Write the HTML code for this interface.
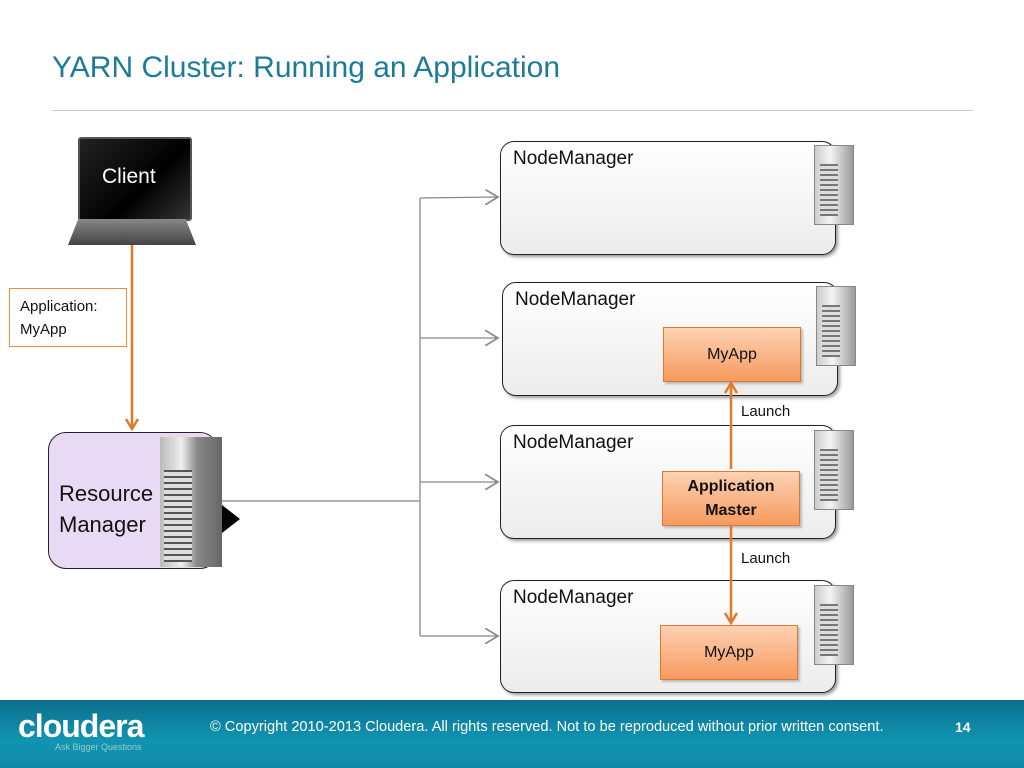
<!DOCTYPE html>
<html><head><style>
body{margin:0;width:1024px;height:768px;position:relative;background:#fff;font-family:"Liberation Sans",sans-serif;overflow:hidden}
.a{position:absolute}
.nm{position:absolute;border:1.5px solid #222;border-radius:14px;background:linear-gradient(#fff,#ececec);box-shadow:2px 2px 3px #999}
.nm span{position:absolute;left:12px;top:6px;font-size:19px;color:#111}
.or{position:absolute;border:1.5px solid #e07a2a;background:linear-gradient(#fcd2b4,#f79a5e);display:flex;align-items:center;justify-content:center;text-align:center;font-size:16px;color:#111;box-shadow:2px 2px 2px #bbb}
.srv{position:absolute;width:38px;height:78px;background:linear-gradient(90deg,#ccc,#f4f4f4 40%,#999);border:1px solid #888}
.srv:before{content:"";position:absolute;left:5px;top:18px;width:18px;height:52px;background:repeating-linear-gradient(#777 0 2px,#ddd 2px 5px)}
</style></head><body>
<div class="a" style="left:52px;top:51px;font-size:30px;color:#1d7b9a">YARN Cluster: Running an Application</div>
<div class="a" style="left:52px;top:110px;width:921px;height:1px;background:#ccc"></div>

<div class="a" style="left:78px;top:137px;width:110px;height:80px;background:linear-gradient(135deg,#222,#000 60%,#333);border:2px solid #555;border-radius:3px"></div>
<div class="a" style="left:102px;top:165px;font-size:21px;color:#fff">Client</div>
<div class="a" style="left:68px;top:219px;width:128px;height:26px;background:linear-gradient(#888,#444);clip-path:polygon(8% 0,92% 0,100% 100%,0 100%)"></div>

<svg class="a" style="left:0;top:0" width="1024" height="700">
<defs><marker id="g" markerWidth="12" markerHeight="12" refX="10" refY="6" orient="auto"><path d="M0,0 L10,6 L0,12" fill="none" stroke="#888" stroke-width="1.3"/></marker>
<marker id="o" markerUnits="userSpaceOnUse" markerWidth="14" markerHeight="14" refX="11" refY="7" orient="auto"><path d="M1,1 L11,7 L1,13" fill="none" stroke="#e07a2a" stroke-width="2.5"/></marker></defs>
<line x1="132" y1="245" x2="132" y2="429" stroke="#e07a2a" stroke-width="2.5" marker-end="url(#o)"/>
<line x1="220" y1="501" x2="420" y2="501" stroke="#888" stroke-width="1.3"/>
<line x1="420" y1="198" x2="420" y2="636" stroke="#888" stroke-width="1.3"/>
<line x1="420" y1="198" x2="498" y2="197" stroke="#888" stroke-width="1.3" marker-end="url(#g)"/>
<line x1="420" y1="338" x2="498" y2="338" stroke="#888" stroke-width="1.3" marker-end="url(#g)"/>
<line x1="420" y1="482" x2="498" y2="482" stroke="#888" stroke-width="1.3" marker-end="url(#g)"/>
<line x1="420" y1="636" x2="498" y2="636" stroke="#888" stroke-width="1.3" marker-end="url(#g)"/>
</svg>

<div class="a" style="left:9px;top:288px;width:118px;height:59px;border:1.5px solid #ed8b3f;font-size:15px;line-height:23px;padding:6px 0 0 10px;box-sizing:border-box;color:#111">Application:<br>MyApp</div>

<div class="a" style="left:48px;top:432px;width:168px;height:135px;border:1.5px solid #222;border-radius:18px;background:#e8d9f5"></div>
<div class="a" style="left:59px;top:478px;font-size:22px;line-height:31px;color:#111">Resource<br>Manager</div>
<div class="a" style="left:160px;top:437px;width:62px;height:130px;background:linear-gradient(90deg,#bbb,#eee 35%,#888 60%,#666)"></div>
<div class="a" style="left:164px;top:470px;width:28px;height:92px;background:repeating-linear-gradient(#555 0 2px,#ddd 2px 6px)"></div>
<div class="a" style="left:222px;top:505px;width:18px;height:28px;background:#000;clip-path:polygon(0 0,100% 50%,0 100%)"></div>

<div class="nm" style="left:500px;top:141px;width:334px;height:112px"><span>NodeManager</span></div>
<div class="nm" style="left:502px;top:282px;width:334px;height:112px"><span>NodeManager</span></div>
<div class="nm" style="left:500px;top:425px;width:334px;height:112px"><span>NodeManager</span></div>
<div class="nm" style="left:500px;top:580px;width:334px;height:111px"><span>NodeManager</span></div>
<div class="srv" style="left:814px;top:145px"></div>
<div class="srv" style="left:816px;top:286px"></div>
<div class="srv" style="left:814px;top:430px"></div>
<div class="srv" style="left:814px;top:585px"></div>

<div class="or" style="left:663px;top:327px;width:136px;height:53px">MyApp</div>
<div class="or" style="left:662px;top:471px;width:136px;height:53px;font-weight:bold;line-height:24px">Application<br>Master</div>
<div class="or" style="left:660px;top:625px;width:136px;height:53px">MyApp</div>

<svg class="a" style="left:0;top:0" width="1024" height="700">
<defs><marker id="o2" markerUnits="userSpaceOnUse" markerWidth="14" markerHeight="14" refX="11" refY="7" orient="auto"><path d="M1,1 L11,7 L1,13" fill="none" stroke="#e07a2a" stroke-width="2.5"/></marker></defs>
<line x1="731" y1="469" x2="731" y2="383" stroke="#e07a2a" stroke-width="2.5" marker-end="url(#o2)"/>
<line x1="731" y1="526" x2="731" y2="623" stroke="#e07a2a" stroke-width="2.5" marker-end="url(#o2)"/>
</svg>
<div class="a" style="left:741px;top:403px;font-size:15px;color:#111">Launch</div>
<div class="a" style="left:741px;top:550px;font-size:15px;color:#111">Launch</div>

<div class="a" style="left:0;top:700px;width:1024px;height:68px;background:linear-gradient(#0b6f8c,#1195b2 60%,#0f8aa6)"></div>
<div class="a" style="left:18px;top:708px;font-size:32px;font-weight:bold;color:#fff;letter-spacing:-1px">cloudera</div>
<div class="a" style="left:55px;top:742px;font-size:9px;color:#9cc">Ask Bigger Questions</div>
<div class="a" style="left:210px;top:719px;font-size:14.6px;color:#fff">© Copyright 2010-2013 Cloudera. All rights reserved. Not to be reproduced without prior written consent.</div>
<div class="a" style="left:955px;top:719px;font-size:14px;font-weight:bold;color:#fff">14</div>
</body></html>
